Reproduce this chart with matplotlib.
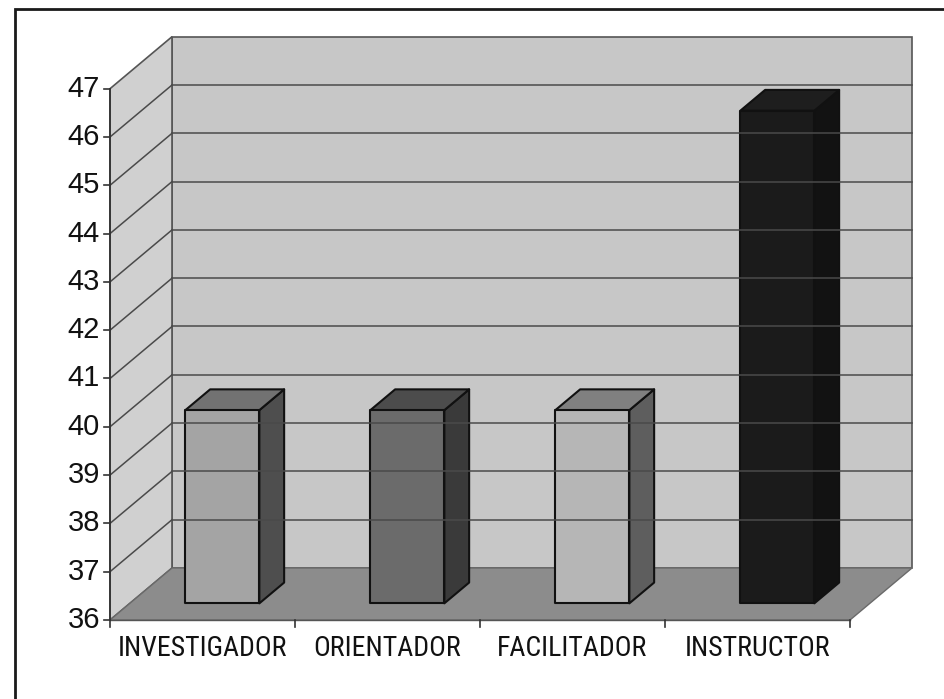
import matplotlib
matplotlib.use("Agg")
import matplotlib.pyplot as plt
from matplotlib.patches import Polygon, Rectangle
from matplotlib import font_manager
from matplotlib.font_manager import FontProperties

categories = ['INVESTIGADOR', 'ORIENTADOR', 'FACILITADOR', 'INSTRUCTOR']
values = [40, 40, 40, 46.2]
y_ticks = list(range(36, 48))
front_colors = ['#a4a4a4', '#6b6b6b', '#b6b6b6', '#1b1b1b']
side_colors = ['#4e4e4e', '#3a3a3a', '#5e5e5e', '#121212']
top_colors = ['#727272', '#4c4c4c', '#808080', '#1e1e1e']

ymin, ymax = 36, 47
ncat = len(categories)
# oblique depth offset (one full depth of the plot box), in data units
DX, DY = 62 / 185, 52 / 48.3
d0, d1 = 0.32, 0.72   # bar front / back depth
half = 0.2            # half bar width

# the category labels use a narrow sans face; pick one if it is installed
fonts = font_manager.fontManager.ttflist
names = {f.name for f in fonts}
xprop = None
for fam in ['Liberation Sans Narrow', 'Roboto Condensed', 'DejaVu Sans Condensed']:
    if fam in names:
        xprop = FontProperties(family=fam)
        break
if xprop is None:
    cond = [f for f in fonts if f.stretch in ('condensed', 'semi-condensed')
            and 'Sans' in f.name and f.weight in (400, 'normal', 'regular')
            and f.style == 'normal']
    if cond:
        xprop = FontProperties(fname=cond[0].fname)
    else:
        xprop = FontProperties(family='Liberation Sans')
yfont = 'Liberation Sans' if 'Liberation Sans' in names else 'DejaVu Sans'


def pt(x, y, d):
    return (x + d * DX, y + d * DY)


fig = plt.figure(figsize=(9.45, 6.99), dpi=100)
ax = fig.add_axes([0, 0, 1, 1])
ax.set_xlim(-110 / 185, 835 / 185)
ax.set_ylim(ymin - 79 / 48.3, ymin + 620 / 48.3)
ax.axis('off')

# walls and floor
back = [pt(0, ymin, 1), pt(ncat, ymin, 1), pt(ncat, ymax, 1), pt(0, ymax, 1)]
side = [pt(0, ymin, 0), pt(0, ymin, 1), pt(0, ymax, 1), pt(0, ymax, 0)]
floor = [pt(0, ymin, 0), pt(ncat, ymin, 0), pt(ncat, ymin, 1), pt(0, ymin, 1)]
ax.add_patch(Polygon(back, closed=True, fc='#c7c7c7', ec='#555555', lw=1.2))
ax.add_patch(Polygon(side, closed=True, fc='#d0d0d0', ec='#555555', lw=1.2))

for v in y_ticks[1:-1]:
    a, b = pt(0, v, 1), pt(ncat, v, 1)
    ax.plot([a[0], b[0]], [a[1], b[1]], color='#4a4a4a', lw=1.1)
    a, b = pt(0, v, 0), pt(0, v, 1)
    ax.plot([a[0], b[0]], [a[1], b[1]], color='#4a4a4a', lw=1.1)

ax.add_patch(Polygon(floor, closed=True, fc='#8c8c8c', ec='#6a6a6a', lw=1))

# front axis lines
ax.plot([0, 0], [ymin, ymax], color='#333333', lw=1.3)
ax.plot([0, ncat], [ymin, ymin], color='#555555', lw=1.0)

# ticks and tick labels
for v in y_ticks:
    ax.plot([-0.032, 0], [v, v], color='#333333', lw=1.2)
    ax.text(-10 / 185, v, str(v), ha='right', va='center',
            fontsize=21, family=yfont, color='#111111')
for i in range(ncat + 1):
    ax.plot([i, i], [ymin, ymin - 0.15], color='#333333', lw=1.2)

labels = []
for i, name in enumerate(categories):
    labels.append(ax.text(i + 0.5, ymin - 0.6, name, ha='center', va='center',
                          fontproperties=xprop, fontsize=16, color='#111111'))
# size the labels so the first one is about 170 px wide, as in the original
renderer = fig.canvas.get_renderer()
w = labels[0].get_window_extent(renderer).width
size = min(22, 16 * 170 / w)
for t in labels:
    t.set_fontsize(size)

# bars
for i, v in enumerate(values):
    xl, xr = i + 0.5 - half, i + 0.5 + half
    front = [pt(xl, ymin, d0), pt(xr, ymin, d0), pt(xr, v, d0), pt(xl, v, d0)]
    rside = [pt(xr, ymin, d0), pt(xr, ymin, d1), pt(xr, v, d1), pt(xr, v, d0)]
    top = [pt(xl, v, d0), pt(xr, v, d0), pt(xr, v, d1), pt(xl, v, d1)]
    ax.add_patch(Polygon(rside, closed=True, fc=side_colors[i], ec='#111111', lw=1.5, joinstyle='round'))
    ax.add_patch(Polygon(top, closed=True, fc=top_colors[i], ec='#111111', lw=1.5, joinstyle='round'))
    ax.add_patch(Polygon(front, closed=True, fc=front_colors[i], ec='#111111', lw=1.5, joinstyle='round'))

# outer frame of the chart area
fig.patches.append(Rectangle((15 / 945, -0.05), 1.0, 1.05 - 9 / 699,
                             transform=fig.transFigure, fill=False,
                             ec='#1a1a1a', lw=2))

fig.savefig('out.png', dpi=100, facecolor='white')
